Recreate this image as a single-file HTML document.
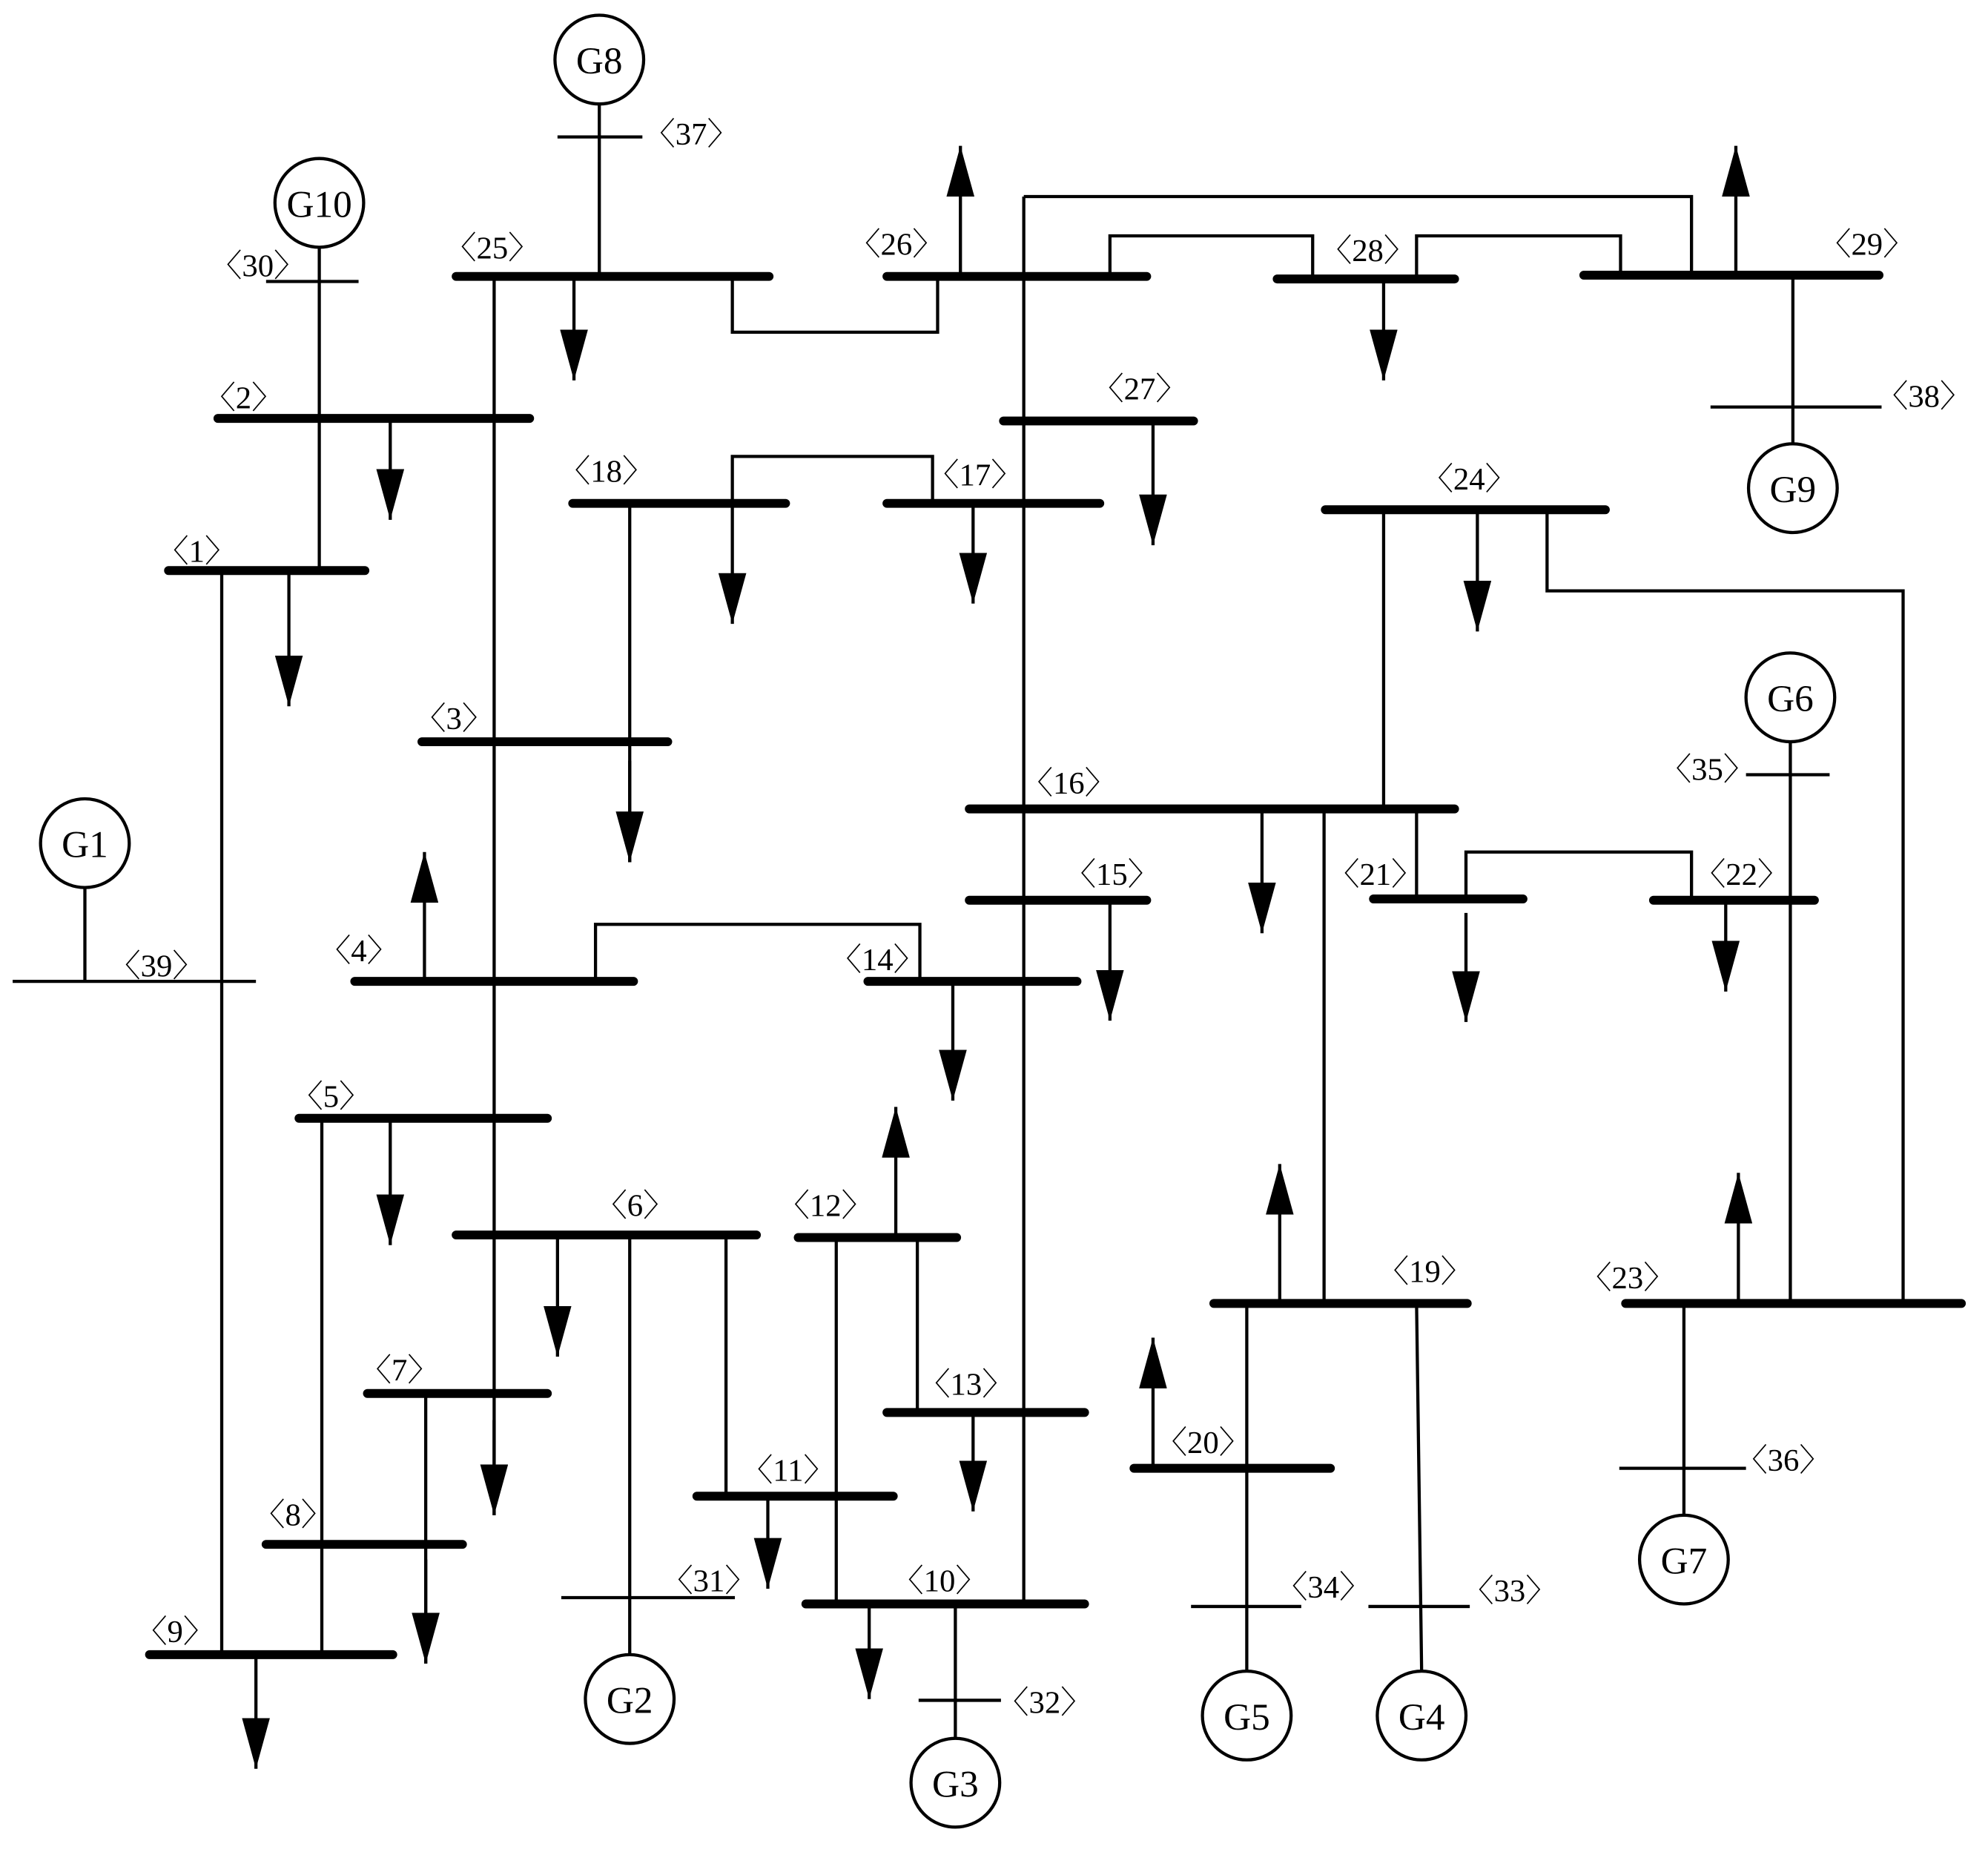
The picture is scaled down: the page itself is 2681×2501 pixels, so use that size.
<!DOCTYPE html>
<html><head><meta charset="utf-8"><style>
html,body{margin:0;padding:0;background:#fff}
svg{display:block}
text{font-family:"Liberation Serif","Noto Serif CJK SC","Noto Sans CJK SC",serif;font-size:25px;fill:#000}
.g{font-size:30px}
</style></head><body>
<svg width="2681" height="2501" viewBox="0 0 1569 1463" preserveAspectRatio="none" xmlns="http://www.w3.org/2000/svg">
<defs>
<marker id="a" viewBox="0 -11 40 22" refX="40" refY="0" markerWidth="40" markerHeight="22" markerUnits="userSpaceOnUse" orient="auto">
<path d="M0,-11 L40,0 L0,11 z" fill="#000"/>
</marker>
</defs>
<g stroke="#000" stroke-width="2.5" fill="none">
<path d="M473,82V218M252,195V450M390,218V1195"/>
<path d="M578,218V262H740V218"/>
<path d="M808,155V1265M808,155H1335V218"/>
<path d="M876,218V186H1036V218M1118,220V186H1279V218"/>
<path d="M1415,217V350"/>
<path d="M175,450V1305M67,700V774"/>
<path d="M497,397V680M578,397V360H736V397"/>
<path d="M1092,402V638M1221,402V466H1502V1028"/>
<path d="M1045,638V1028M1118,638V709M1157,709V672H1335V709"/>
<path d="M1413,585V1028"/>
<path d="M470,774V729H726V774"/>
<path d="M254,882V1305M497,974V1305M573,974V1180"/>
<path d="M660,976V1265M724,976V1114"/>
<path d="M336,1099V1312"/>
<path d="M754,1265V1371M984,1028V1318M1118,1028L1122,1318M1329,1028V1195"/>
<path d="M440,108H507M210,222H283M1350,321H1485M10,774H202M1378,611H1444M443,1260H580M725,1341H790M940,1267H1027M1080,1267H1160M1278,1158H1378"/>
<g marker-end="url(#a)">
<path d="M453,218V300"/><path d="M758,218V115"/><path d="M1092,220V300"/><path d="M1370,217V115"/>
<path d="M308,330V410"/><path d="M228,450V557"/><path d="M578,397V492"/><path d="M768,397V476"/>
<path d="M910,332V430"/><path d="M1166,402V498"/><path d="M497,600V680"/><path d="M996,638V736"/>
<path d="M876,710V805"/><path d="M1157,720V806"/><path d="M1362,710V782"/><path d="M335,774V672"/>
<path d="M752,774V868"/><path d="M308,882V982"/><path d="M440,974V1070"/><path d="M707,976V873"/>
<path d="M768,1114V1192"/><path d="M390,1120V1195"/><path d="M336,1230V1312"/><path d="M606,1180V1253"/>
<path d="M202,1305V1395"/><path d="M686,1265V1340"/><path d="M1010,1028V918"/><path d="M910,1158V1055"/>
<path d="M1372,1028V925"/>
</g>
<circle cx="473" cy="47" r="35"/><circle cx="252" cy="160" r="35"/><circle cx="1415" cy="385" r="35"/>
<circle cx="67" cy="665" r="35"/><circle cx="1413" cy="550" r="35"/><circle cx="497" cy="1340" r="35"/>
<circle cx="754" cy="1406" r="35"/><circle cx="984" cy="1353" r="35"/><circle cx="1122" cy="1353" r="35"/>
<circle cx="1329" cy="1230" r="35"/>
</g>
<g stroke="#000" stroke-width="7" stroke-linecap="round">
<path d="M360,218H607M700,218H905M1008,220H1148M1250,217H1483M172,330H418M133,450H288"/>
<path d="M452,397H620M700,397H868M792,332H942M1046,402H1267M333,585H527M765,638H1148"/>
<path d="M765,710H905M1084,709H1202M1305,710H1432M280,774H500M685,774H850M236,882H432"/>
<path d="M360,974H597M630,976H755M700,1114H856M290,1099H432M550,1180H705M210,1218H365"/>
<path d="M118,1305H310M636,1265H856M958,1028H1158M895,1158H1050M1283,1028H1548"/>
</g>
<g>
<text class="g" x="473" y="58" text-anchor="middle">G8</text>
<text class="g" x="252" y="171" text-anchor="middle">G10</text>
<text class="g" x="1415" y="396" text-anchor="middle">G9</text>
<text class="g" x="67" y="676" text-anchor="middle">G1</text>
<text class="g" x="1413" y="561" text-anchor="middle">G6</text>
<text class="g" x="497" y="1351" text-anchor="middle">G2</text>
<text class="g" x="754" y="1417" text-anchor="middle">G3</text>
<text class="g" x="984" y="1364" text-anchor="middle">G5</text>
<text class="g" x="1122" y="1364" text-anchor="middle">G4</text>
<text class="g" x="1329" y="1241" text-anchor="middle">G7</text>
<text x="508" y="114">〈37〉</text><text x="166" y="218">〈30〉</text>
<text x="351" y="204">〈25〉</text><text x="670" y="201">〈26〉</text>
<text x="1042" y="206">〈28〉</text><text x="1436" y="201">〈29〉</text>
<text x="1481" y="321">〈38〉</text><text x="161" y="322">〈2〉</text>
<text x="124" y="443">〈1〉</text><text x="86" y="770">〈39〉</text>
<text x="441" y="380">〈18〉</text><text x="732" y="383">〈17〉</text>
<text x="862" y="315">〈27〉</text><text x="1122" y="386">〈24〉</text>
<text x="327" y="575">〈3〉</text><text x="806" y="626">〈16〉</text>
<text x="840" y="698">〈15〉</text><text x="1048" y="698">〈21〉</text>
<text x="1337" y="698">〈22〉</text><text x="1310" y="615">〈35〉</text>
<text x="252" y="758">〈4〉</text><text x="655" y="765">〈14〉</text>
<text x="230" y="873">〈5〉</text><text x="470" y="959">〈6〉</text>
<text x="614" y="959">〈12〉</text><text x="725" y="1100">〈13〉</text>
<text x="284" y="1089">〈7〉</text><text x="585" y="1168">〈11〉</text>
<text x="200" y="1203">〈8〉</text><text x="107" y="1295">〈9〉</text>
<text x="704" y="1255">〈10〉</text><text x="522" y="1255">〈31〉</text>
<text x="787" y="1351">〈32〉</text><text x="1087" y="1011">〈19〉</text>
<text x="912" y="1146">〈20〉</text><text x="1247" y="1016">〈23〉</text>
<text x="1007" y="1260">〈34〉</text><text x="1154" y="1263">〈33〉</text>
<text x="1370" y="1160">〈36〉</text>
</g>
</svg>
</body></html>
